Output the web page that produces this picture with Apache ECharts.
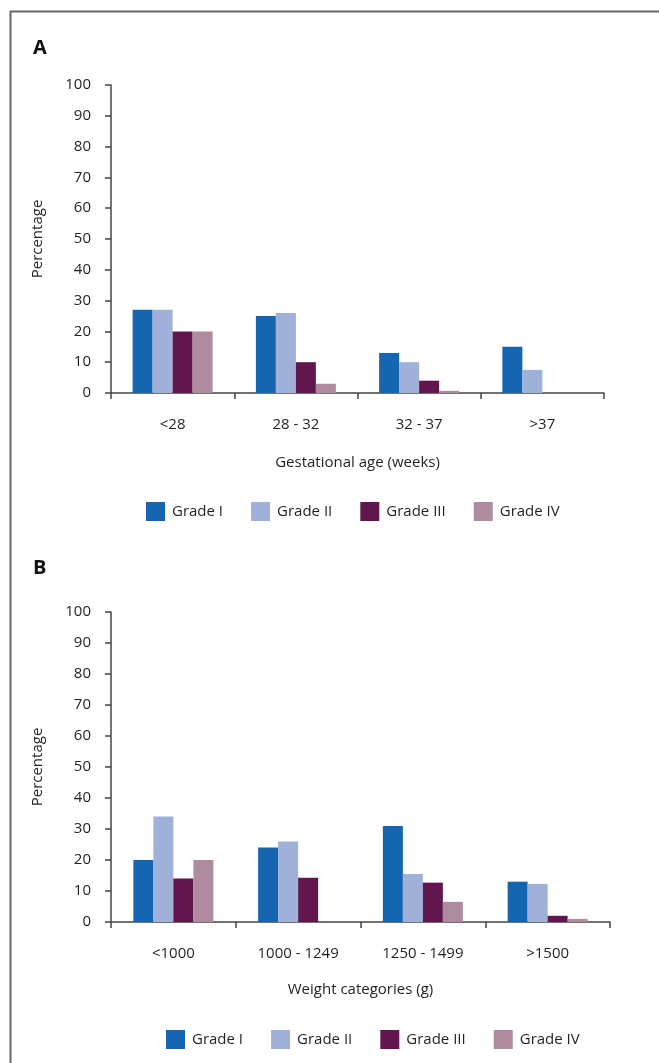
<!DOCTYPE html>
<html>
<head>
<meta charset="utf-8">
<script src="https://cdn.jsdelivr.net/npm/echarts@6/dist/echarts.min.js"></script>
<style>
html,body{margin:0;padding:0;background:#fff;}
#c{width:659px;height:1063px;}
</style>
</head>
<body>
<div id="c"></div>
<script>
const gradeNames = ['Grade I', 'Grade II', 'Grade III', 'Grade IV'];
const gradeColors = ['#1565B0', '#9FB0D9', '#62164E', '#AE8B9E'];
const yTicks = { min: 0, max: 100, interval: 10 };

const gestCategories = ['<28', '28 - 32', '32 - 37', '>37'];
const gestGradeI   = [27, 25, 13, 15];
const gestGradeII  = [27, 26, 10, 7.5];
const gestGradeIII = [20, 10, 4, 0];
const gestGradeIV  = [20, 3, 0.7, 0];

const weightCategories = ['<1000', '1000 - 1249', '1250 - 1499', '>1500'];
const weightGradeI   = [20, 24, 31, 13];
const weightGradeII  = [34, 26, 15.5, 12.3];
const weightGradeIII = [14, 14.3, 12.7, 2];
const weightGradeIV  = [20, 0, 6.5, 1];

const FONT = "'Open Sans', 'Noto Sans', sans-serif";
const TXT = '#231f20';
const AX = '#444';

function xAx(gridIndex, cats, name, nameGap) {
  return {
    type: 'category', gridIndex, data: cats,
    name, nameLocation: 'middle', nameGap,
    nameTextStyle: { fontFamily: FONT, fontSize: 15, color: TXT },
    axisLine: { lineStyle: { color: AX, width: 1.5 } },
    axisTick: { show: true, length: 6, lineStyle: { color: AX, width: 1.5 } },
    axisLabel: { fontFamily: FONT, fontSize: 15, color: TXT, margin: 24 },
    splitLine: { show: false }
  };
}
function yAx(gridIndex) {
  return {
    type: 'value', gridIndex, min: yTicks.min, max: yTicks.max, interval: yTicks.interval,
    name: 'Percentage', nameLocation: 'middle', nameGap: 66,
    nameTextStyle: { fontFamily: FONT, fontSize: 15, color: TXT },
    axisLine: { show: true, lineStyle: { color: AX, width: 1.5 } },
    axisTick: { show: true, length: 6, lineStyle: { color: AX, width: 1.5 } },
    axisLabel: { fontFamily: FONT, fontSize: 15, color: TXT, margin: 20 },
    splitLine: { show: false }
  };
}
function bars(idx, arrays) {
  return arrays.map((d, i) => ({
    type: 'bar', name: gradeNames[i], xAxisIndex: idx, yAxisIndex: idx,
    data: d, barWidth: 20, barGap: '0%',
    itemStyle: { color: gradeColors[i] }, silent: true
  }));
}
function legend(top, left) {
  return {
    top, left, data: gradeNames, icon: 'rect',
    itemWidth: 19, itemHeight: 19, itemGap: 28,
    textStyle: { fontFamily: FONT, fontSize: 15, color: TXT, padding: [0, 0, 0, 2] },
    selectedMode: false
  };
}

const chart = echarts.init(document.getElementById('c'), null, { renderer: 'canvas' });
chart.setOption({
  backgroundColor: '#fff',
  animation: false,
  color: gradeColors,
  title: [
    { text: 'A', left: 28, top: 33, textStyle: { fontFamily: FONT, fontSize: 20, fontWeight: 'bold', color: '#111' } },
    { text: 'B', left: 28, top: 553, textStyle: { fontFamily: FONT, fontSize: 20, fontWeight: 'bold', color: '#111' } }
  ],
  graphic: [{
    type: 'rect', left: 8, top: 9, shape: { width: 800, height: 1200 },
    style: { fill: 'none', stroke: '#666', lineWidth: 2 }
  }],
  grid: [
    { left: 111, top: 85, width: 493, height: 308 },
    { left: 111, top: 612, width: 499, height: 310 }
  ],
  xAxis: [
    xAx(0, gestCategories, 'Gestational age (weeks)', 62),
    xAx(1, weightCategories, 'Weight categories (g)', 60)
  ],
  yAxis: [yAx(0), yAx(1)],
  legend: [legend(497, 141), legend(1025, 161)],
  series: [
    ...bars(0, [gestGradeI, gestGradeII, gestGradeIII, gestGradeIV]),
    ...bars(1, [weightGradeI, weightGradeII, weightGradeIII, weightGradeIV])
  ]
});
</script>
</body>
</html>
